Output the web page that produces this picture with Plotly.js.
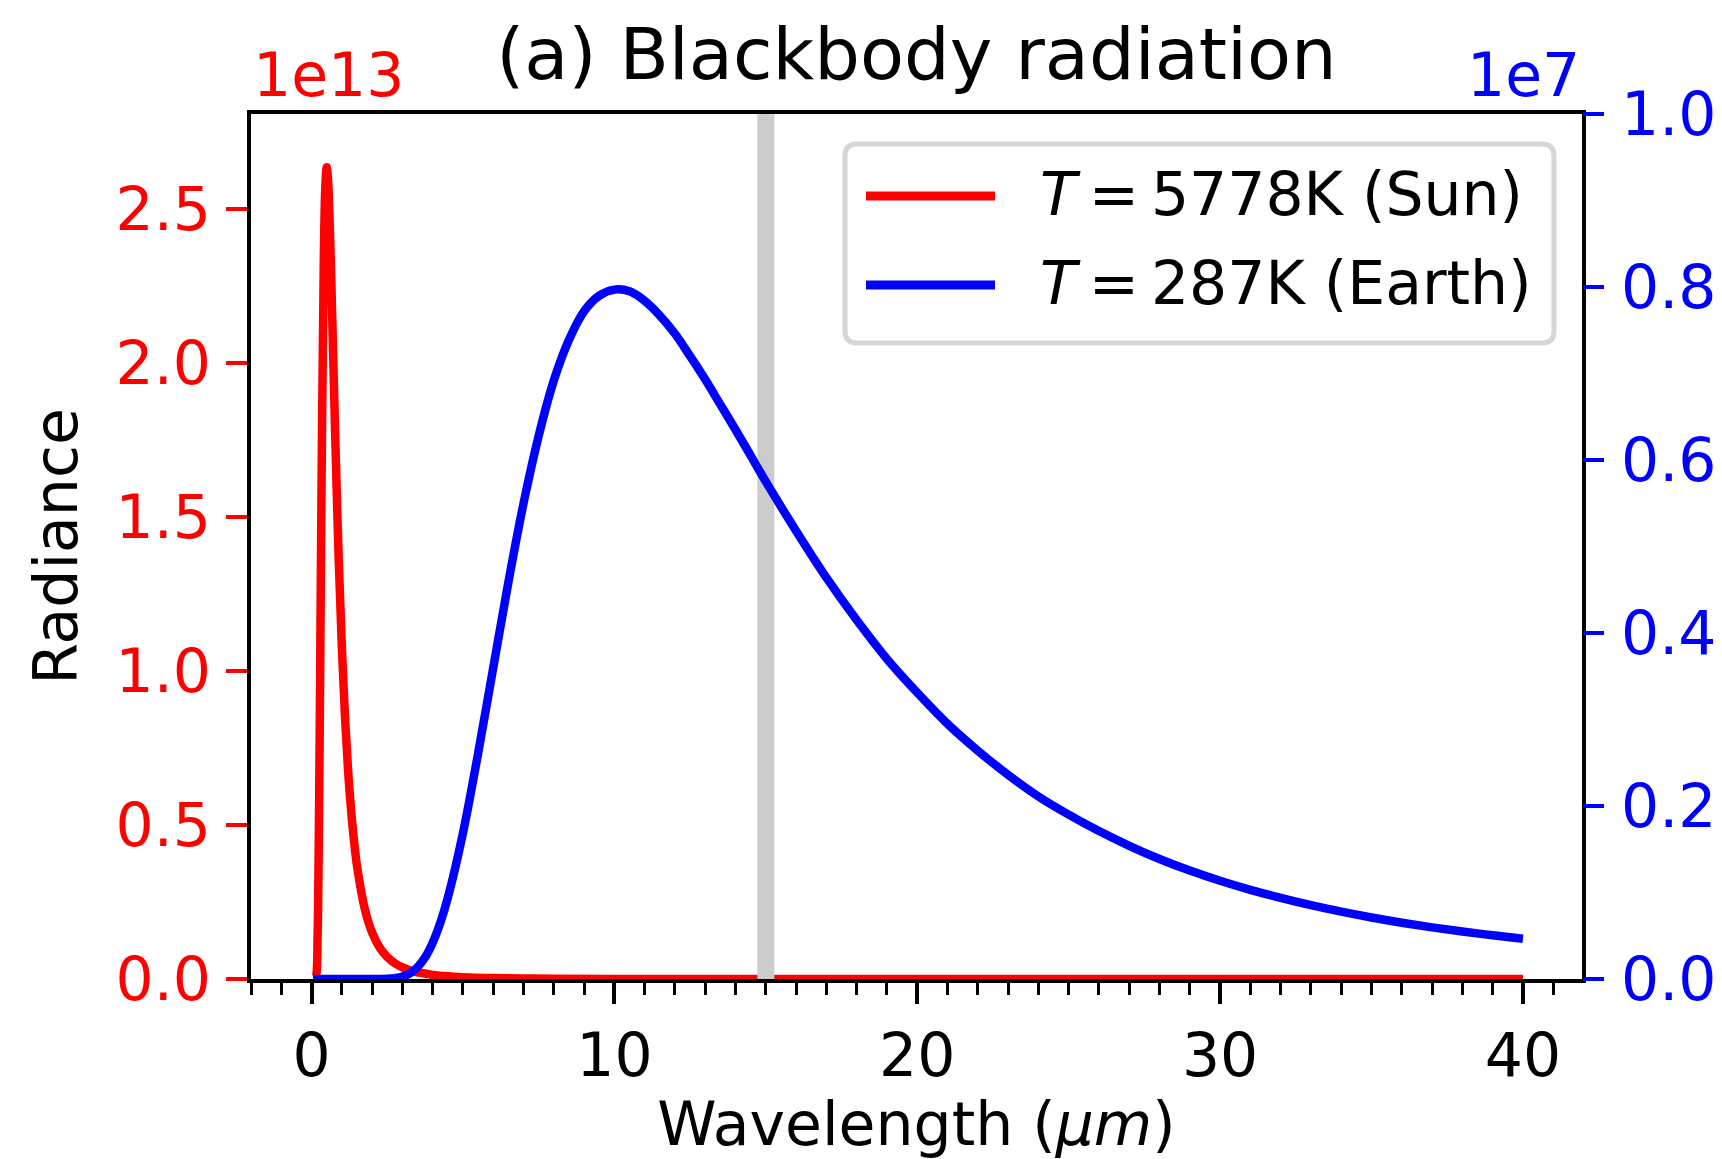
<!DOCTYPE html>
<html>
<head>
<meta charset="utf-8">
<script src="https://cdn.plot.ly/plotly-3.0.1.min.js"></script>
<style>html,body{margin:0;padding:0;background:#fff;}#chart{width:1722px;height:1159px;}</style>
</head>
<body>
<div id="chart"></div>
<script>
// ---- data ----
// Sun, T = 5778 K : wavelength (um) and radiance (units of 1e13)
const sunWavelength = [0.05, 0.1, 0.15, 0.2, 0.225, 0.25, 0.275, 0.3, 0.35, 0.4, 0.45, 0.5, 0.55, 0.6, 0.65, 0.7, 0.75, 0.8, 0.9, 1.0, 1.1, 1.2, 1.3, 1.4, 1.5, 1.75, 2.0, 2.25, 2.5, 2.75, 3, 3.25, 3.5, 4, 4.5, 5, 6, 7, 8, 10, 15, 20, 30, 40];
const sunRadiance = [0, 0, 0.0096, 0.146, 0.322, 0.575, 0.884, 1.218, 1.844, 2.304, 2.560, 2.637, 2.585, 2.453, 2.276, 2.080, 1.882, 1.692, 1.353, 1.077, 0.858, 0.687, 0.554, 0.450, 0.368, 0.2305, 0.1505, 0.102, 0.0714, 0.0514, 0.0379, 0.0285, 0.0219, 0.0135, 0.0087, 0.0059, 0.0030, 0.0017, 0.0010, 0.0004, 0.0001, 0, 0, 0];
// Earth, T = 287 K : wavelength (um) and radiance (units of 1e7)
const earthWavelength = [0.05, 1, 2, 2.5, 2.75, 3, 3.25, 3.5, 3.75, 4, 4.25, 4.5, 5, 5.5, 6, 6.5, 7, 7.5, 8, 8.5, 9, 9.5, 10, 10.5, 11, 11.5, 12, 12.5, 13, 13.5, 14, 14.5, 15, 16, 17, 18, 19, 20, 21, 22, 23, 24, 25, 26, 27, 28, 29, 30, 31, 32, 33, 34, 35, 36, 37, 38, 39, 40];
const earthRadiance = [0, 0, 0, 0.0002, 0.0009, 0.0027, 0.0066, 0.0137, 0.0251, 0.042, 0.0648, 0.094, 0.169, 0.261, 0.360, 0.459, 0.550, 0.628, 0.692, 0.739, 0.772, 0.790, 0.797, 0.795, 0.784, 0.767, 0.746, 0.720, 0.693, 0.664, 0.635, 0.605, 0.575, 0.518, 0.464, 0.415, 0.370, 0.331, 0.295, 0.264, 0.236, 0.211, 0.190, 0.171, 0.154, 0.1387, 0.1253, 0.1135, 0.1030, 0.0937, 0.0853, 0.0778, 0.0711, 0.0651, 0.0597, 0.0549, 0.0505, 0.0465];
// vertical marker line
const markerWavelength = [15, 15];
const markerSpan = [0, 2.81];

const seriesNames = ['<i>T</i>\u2009=\u20095778K (Sun)', '<i>T</i>\u2009=\u2009287K (Earth)'];
const seriesColors = ['#ff0000', '#0000ff'];

// axes ticks
const xTickVals = [0, 10, 20, 30, 40];
const xTickText = ['0', '10', '20', '30', '40'];
const leftTickVals = [0, 0.5, 1.0, 1.5, 2.0, 2.5];
const leftTickText = ['0.0', '0.5', '1.0', '1.5', '2.0', '2.5'];
const rightTickVals = [0, 0.2, 0.4, 0.6, 0.8, 1.0];
const rightTickText = ['0.0', '0.2', '0.4', '0.6', '0.8', '1.0'];
const leftOffsetText = '1e13';
const rightOffsetText = '1e7';

// ---- layout geometry (pixels) ----
const W = 1722, H = 1159;
const L = 251, R = 1582, T = 114, B = 979;
const pw = R - L, ph = B - T;
const px = v => (v - L) / pw;
const py = v => (B - v) / ph;
const FONT = 'DejaVu Sans';

const traces = [
  {x: sunWavelength, y: sunRadiance, type: 'scatter', mode: 'lines', xaxis: 'x', yaxis: 'y',
   line: {color: seriesColors[0], width: 8.5, shape: 'spline', smoothing: 1}, showlegend: false, name: seriesNames[0]},
  {x: markerWavelength, y: markerSpan, type: 'scatter', mode: 'lines', xaxis: 'x', yaxis: 'y',
   line: {color: '#cccccc', width: 17}, showlegend: false, hoverinfo: 'skip'},
  {x: earthWavelength, y: earthRadiance, type: 'scatter', mode: 'lines', xaxis: 'x', yaxis: 'y2',
   line: {color: seriesColors[1], width: 8.5, shape: 'spline', smoothing: 1}, showlegend: false, name: seriesNames[1]}
];

// manual legend (matplotlib style, rounded box)
const lx0 = 845, lx1 = 1554, ly0 = 144, ly1 = 343, rad = 12;
const rx = rad / pw, ry = rad / ph;
const X0 = px(lx0), X1 = px(lx1), Yt = py(ly0), Yb = py(ly1);
const legendPath = `M ${X0 + rx} ${Yt} L ${X1 - rx} ${Yt} Q ${X1} ${Yt} ${X1} ${Yt - ry} L ${X1} ${Yb + ry} Q ${X1} ${Yb} ${X1 - rx} ${Yb} L ${X0 + rx} ${Yb} Q ${X0} ${Yb} ${X0} ${Yb + ry} L ${X0} ${Yt - ry} Q ${X0} ${Yt} ${X0 + rx} ${Yt} Z`;
const rowY = [196, 285];

const shapes = [
  {type: 'path', xref: 'paper', yref: 'paper', path: legendPath, fillcolor: 'rgba(255,255,255,0.8)',
   line: {color: '#d6d6d6', width: 5}, layer: 'above'}
];
const annotations = [
  {text: leftOffsetText, xref: 'paper', yref: 'paper', x: 0, y: py(75), xanchor: 'left', yanchor: 'middle',
   showarrow: false, font: {family: FONT, size: 60, color: seriesColors[0]}},
  {text: rightOffsetText, xref: 'paper', yref: 'paper', x: 1, y: py(75), xanchor: 'right', yanchor: 'middle',
   showarrow: false, font: {family: FONT, size: 60, color: seriesColors[1]}}
];
seriesNames.forEach((nm, i) => {
  shapes.push({type: 'line', xref: 'paper', yref: 'paper', x0: px(866), x1: px(995), y0: py(rowY[i]), y1: py(rowY[i]),
    line: {color: seriesColors[i], width: 9}, layer: 'above'});
  annotations.push({text: nm, xref: 'paper', yref: 'paper', x: px(1038), y: py(rowY[i] - 2), xanchor: 'left', yanchor: 'middle',
    showarrow: false, font: {family: FONT, size: 60, color: '#000'}});
});

const layout = {
  width: W, height: H,
  margin: {l: L, r: W - R, t: T, b: H - B, pad: 0},
  paper_bgcolor: '#fff', plot_bgcolor: '#fff',
  font: {family: FONT, size: 60, color: '#000'},
  showlegend: false,
  title: {text: '(a) Blackbody radiation', font: {family: FONT, size: 72, color: '#000'},
          x: 0.5, xref: 'paper', xanchor: 'center', y: 1 - 53.5 / H, yref: 'container', yanchor: 'middle'},
  xaxis: {
    range: [-2, 41.95], showgrid: false, zeroline: false,
    showline: true, mirror: true, linecolor: '#000', linewidth: 4,
    ticks: 'outside', ticklen: 21, tickwidth: 4, tickcolor: '#000',
    tickvals: xTickVals, ticktext: xTickText,
    tickfont: {family: FONT, size: 60, color: '#000'},
    minor: {dtick: 1, tick0: 0, ticks: 'outside', ticklen: 12, tickwidth: 3, tickcolor: '#000', showgrid: false},
    title: {text: 'Wavelength (<i>μm</i>)', font: {family: FONT, size: 60, color: '#000'}, standoff: 30},
    automargin: false
  },
  yaxis: {
    range: [0, 2.81], showgrid: false, zeroline: false,
    showline: true, mirror: true, linecolor: '#000', linewidth: 4,
    ticks: 'outside', ticklen: 21, tickwidth: 4, tickcolor: seriesColors[0],
    tickvals: leftTickVals, ticktext: leftTickText, ticklabelstandoff: 3,
    tickfont: {family: FONT, size: 60, color: seriesColors[0]},
    title: {text: 'Radiance', font: {family: FONT, size: 60, color: '#000'}, standoff: 20},
    automargin: false
  },
  yaxis2: {
    range: [0, 1.0], overlaying: 'y', side: 'right', anchor: 'x',
    showgrid: false, zeroline: false, showline: false,
    ticks: 'outside', ticklen: 21, tickwidth: 4, tickcolor: seriesColors[1],
    tickvals: rightTickVals, ticktext: rightTickText, ticklabelstandoff: 5,
    tickfont: {family: FONT, size: 60, color: seriesColors[1]},
    automargin: false
  },
  shapes: shapes,
  annotations: annotations
};

Plotly.newPlot('chart', traces, layout, {staticPlot: true, displayModeBar: false});
</script>
</body>
</html>
